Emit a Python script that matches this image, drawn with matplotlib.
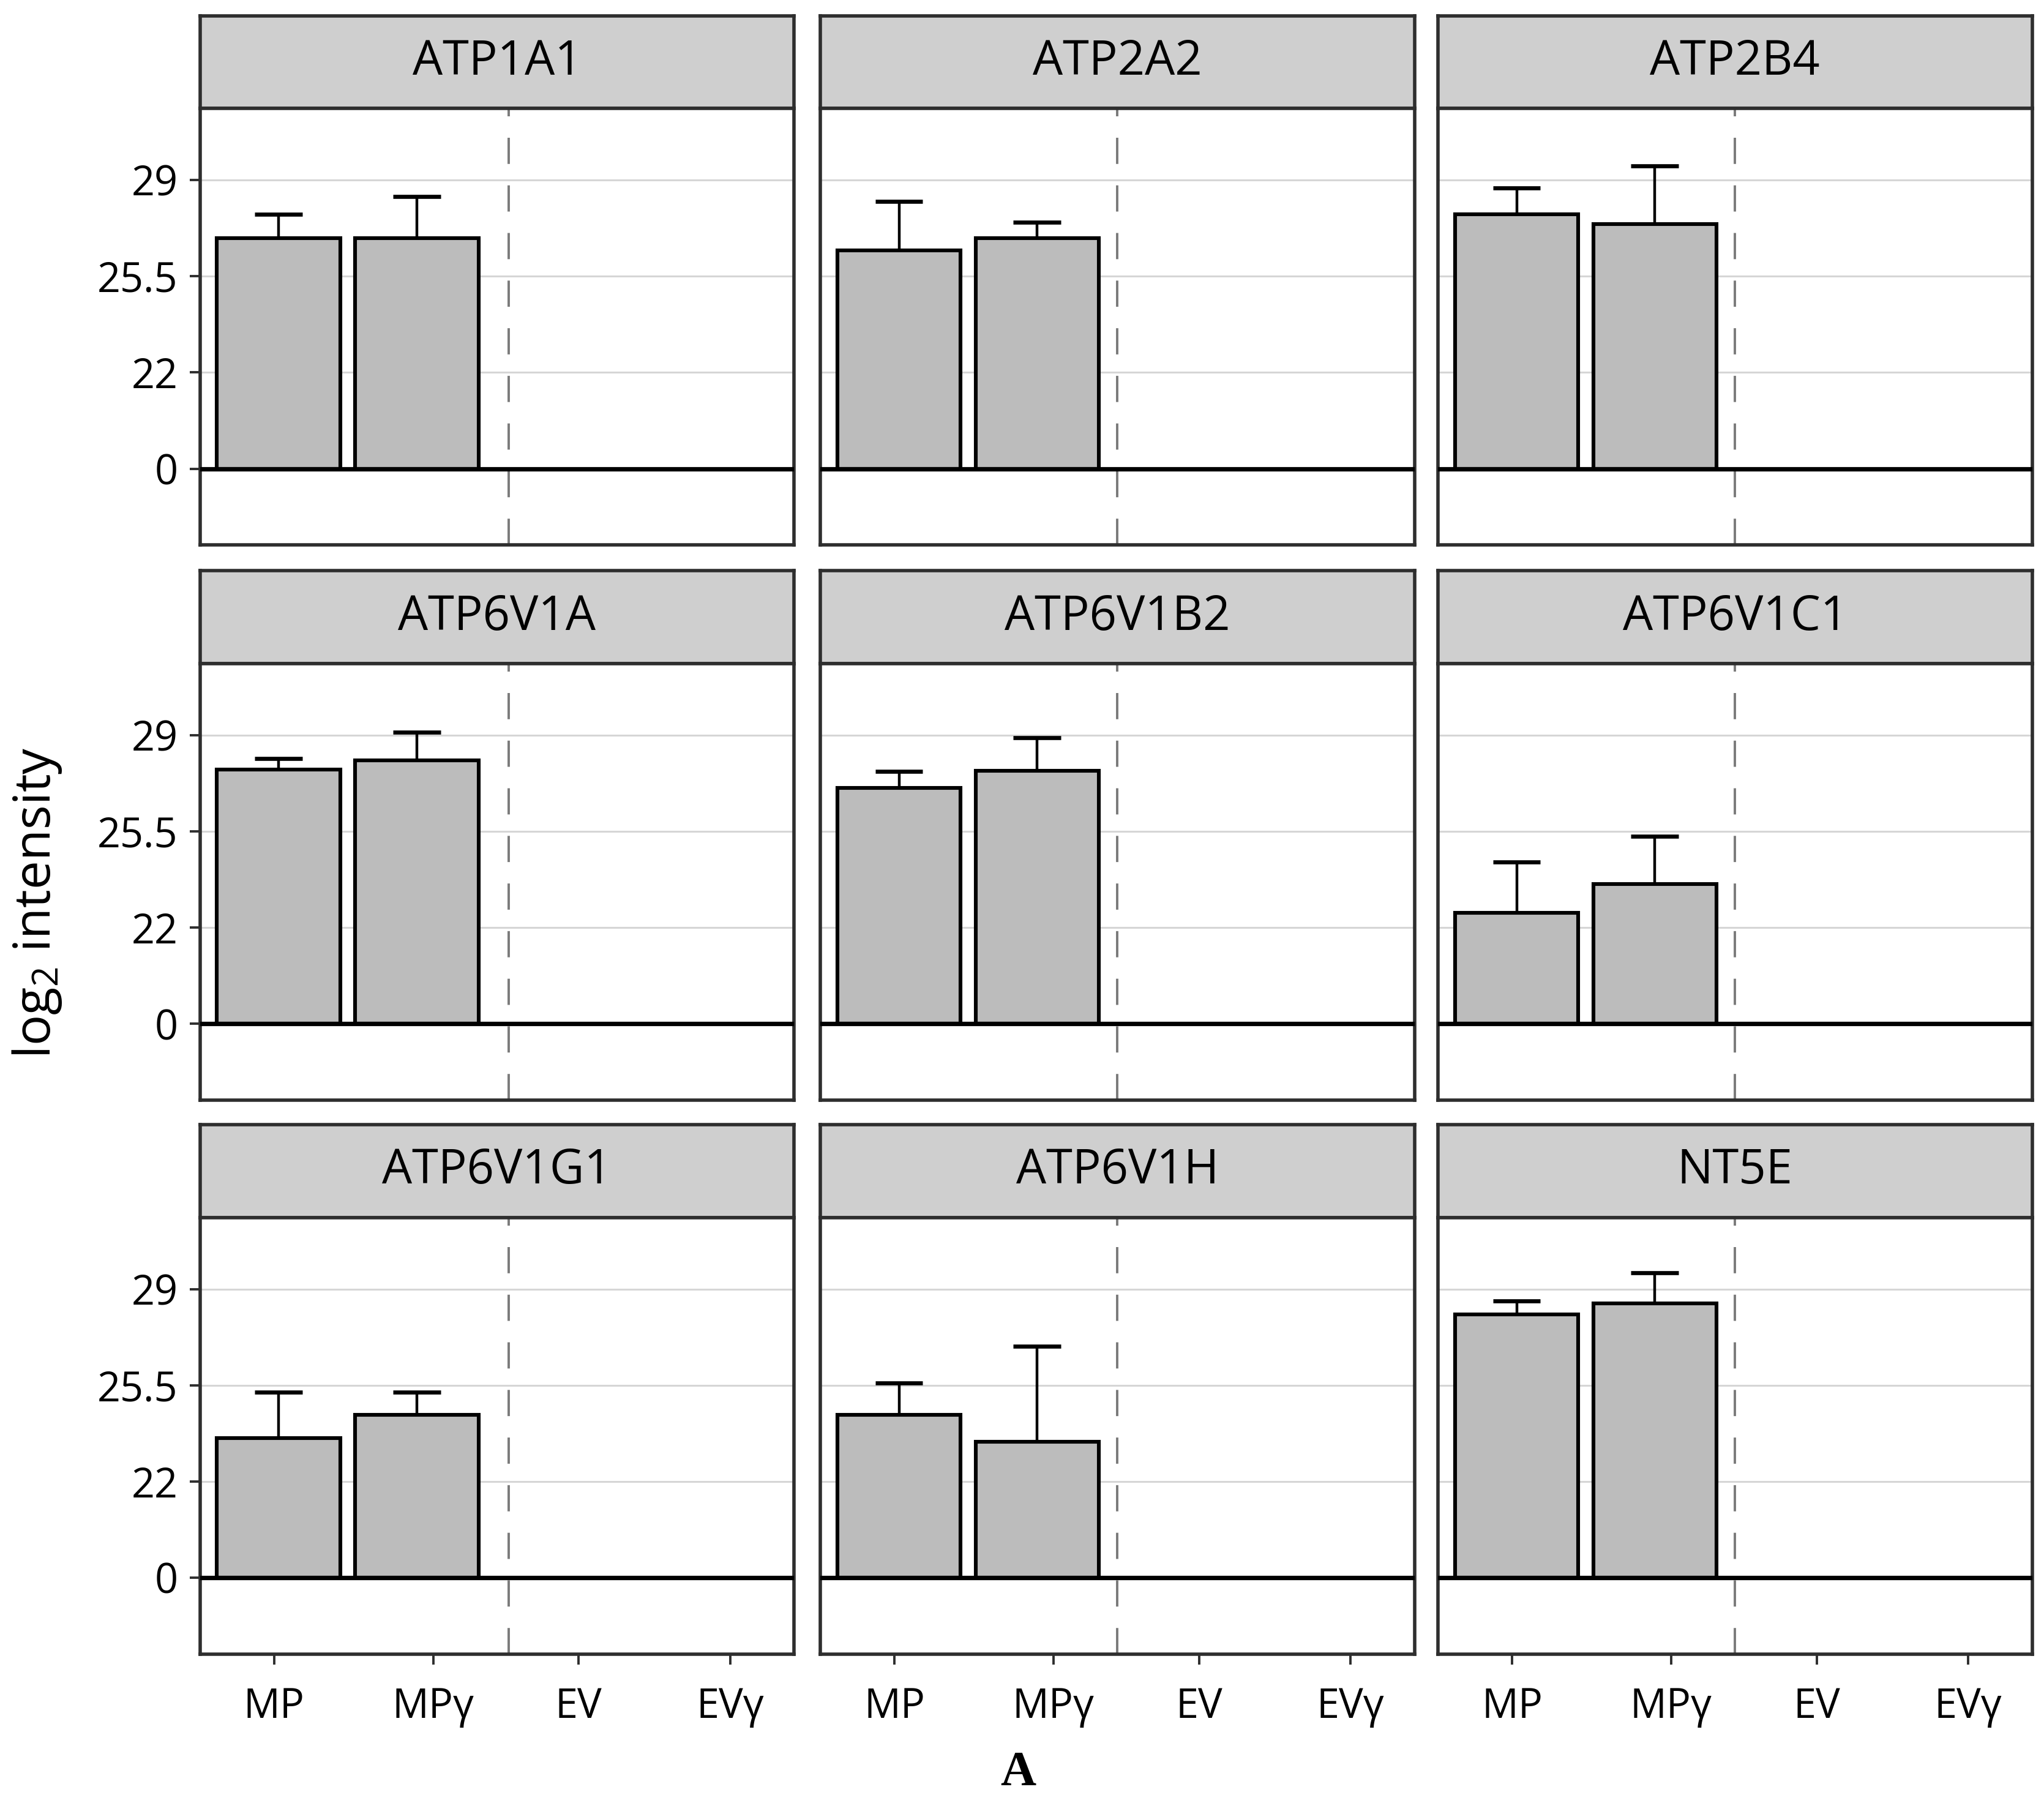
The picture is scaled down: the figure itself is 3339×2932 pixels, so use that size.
import numpy as np
import matplotlib
matplotlib.use("Agg")
import matplotlib.pyplot as plt

plt.rcParams['font.family'] = ['Open Sans', 'DejaVu Sans']
plt.rcParams['mathtext.fontset'] = 'custom'
plt.rcParams['mathtext.rm'] = 'Open Sans'

# data
genes = ['ATP1A1', 'ATP2A2', 'ATP2B4',
         'ATP6V1A', 'ATP6V1B2', 'ATP6V1C1',
         'ATP6V1G1', 'ATP6V1H', 'NT5E']
groups = ['MP', 'MPγ', 'EV', 'EVγ']
mp_mean = [26.89, 26.44, 27.75, 27.74, 27.07, 22.54, 23.59, 24.42, 28.08]
mp_sd = [0.85, 1.78, 0.95, 0.40, 0.60, 1.84, 1.65, 1.17, 0.49]
mpg_mean = [26.89, 26.88, 27.40, 28.09, 27.71, 23.59, 24.42, 23.44, 28.47]
mpg_sd = [1.50, 0.58, 2.12, 1.02, 1.19, 1.72, 0.82, 3.48, 1.13]
yticks = [0, 22, 25.5, 29]


# broken axis: 0-22 squeezed into one step, then 3.5 per step
def fwd(y):
    y = np.asarray(y, dtype=float)
    return np.where(y < 22, y / 22.0, 1 + (y - 22) / 3.5)


def inv(u):
    u = np.asarray(u, dtype=float)
    return np.where(u < 1, u * 22.0, 22 + (u - 1) * 3.5)


fig = plt.figure(figsize=(16.695, 14.66), dpi=200)

col_left = [0.0978, 0.4013, 0.7035]
col_w = 0.2907
row_top = [0.0087, 0.318, 0.6266]
strip_h = 0.0517
plot_h = 0.2431

bar_pos = [1.03, 1.96]
tick_pos = [1.0, 2.07, 3.05, 4.07]
dash_x = [2.58, 2.5, 2.5]
frame = '#2e2e2e'

for i, g in enumerate(genes):
    r, c = divmod(i, 3)
    x0 = col_left[c]
    top = 1 - row_top[r]

    # strip
    sax = fig.add_axes([x0, top - strip_h, col_w, strip_h])
    sax.set_facecolor('#cfcfcf')
    sax.set_xticks([])
    sax.set_yticks([])
    for s in sax.spines.values():
        s.set_color(frame)
        s.set_linewidth(2.0)
    sax.text(0.5, 0.5, g, ha='center', va='center', fontsize=28,
             transform=sax.transAxes)

    ax = fig.add_axes([x0, top - strip_h - plot_h, col_w, plot_h])
    ax.set_yscale('function', functions=(fwd, inv))
    ax.set_xlim(0.5, 4.5)
    ax.set_ylim(-17.4, 31.6)
    ax.set_axisbelow(True)
    ax.grid(axis='y', color='#d6d6d6', linewidth=1.1)
    ax.grid(axis='x', visible=False)

    means = [mp_mean[i], mpg_mean[i]]
    sds = [mp_sd[i], mpg_sd[i]]
    ups = [m + s for m, s in zip(means, sds)]
    ax.vlines(bar_pos, means, ups, color='black', linewidth=1.6, zorder=2)
    ax.hlines(ups, [p - 0.16 for p in bar_pos], [p + 0.16 for p in bar_pos],
              color='black', linewidth=2.4, zorder=2)
    ax.bar(bar_pos, means, width=0.83, color='#bcbcbc', edgecolor='black',
           linewidth=2.2, zorder=3)

    ax.axvline(dash_x[c], color='#7a7a7a', linewidth=1.4,
               linestyle=(0, (11, 9)), zorder=1)
    ax.axhline(0, color='black', linewidth=2.6, zorder=4)

    for s in ax.spines.values():
        s.set_color(frame)
        s.set_linewidth(2.0)

    ax.set_yticks(yticks)
    ax.set_yticklabels(['0', '22', '25.5', '29'])
    ax.set_xticks(tick_pos)
    ax.set_xticklabels(groups)
    ax.tick_params(axis='both', length=6, width=1.4, color=frame,
                   labelsize=24, labelcolor='black')
    ax.tick_params(axis='y', pad=7)
    ax.tick_params(axis='x', pad=13)
    ax.yaxis.set_minor_locator(matplotlib.ticker.NullLocator())
    if c != 0:
        ax.tick_params(axis='y', left=False, labelleft=False)
    if r != 2:
        ax.tick_params(axis='x', bottom=False, labelbottom=False)

fig.text(0.018, 0.497, r'log$_\mathregular{2}$ intensity', rotation=90,
         ha='center', va='center', fontsize=30)
fig.text(0.498, 0.012, 'A', ha='center', va='center', fontsize=29,
         fontweight='bold', family='Liberation Serif')

fig.savefig('out.png', dpi=200)
